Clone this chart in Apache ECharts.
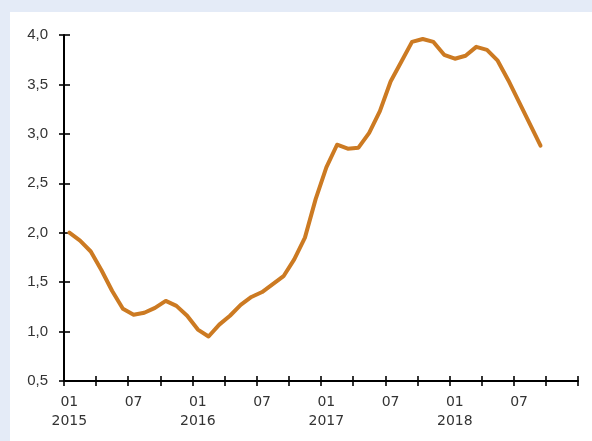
<!DOCTYPE html>
<html>
<head>
<meta charset="utf-8">
<script src="https://cdn.jsdelivr.net/npm/echarts@6/dist/echarts.min.js"></script>
<style>
  html, body { margin: 0; padding: 0; width: 592px; height: 441px; background: #E4EBF7; overflow: hidden; }
  #panel { position: absolute; left: 10px; top: 12px; width: 582px; height: 429px; background: #ffffff; }
  #chart { width: 582px; height: 429px; }
</style>
</head>
<body>
<div id="panel"><div id="chart"></div></div>
<script>
const years = ['2015', '2016', '2017', '2018'];
const monthCodes = ['01','02','03','04','05','06','07','08','09','10','11','12'];
const yTicks = { min: 0.5, max: 4.0, interval: 0.5 };

// Monthly values, Jan 2015 .. Sep 2018
const values = [
  2.00, 1.92, 1.81, 1.62, 1.41, 1.23, 1.17, 1.19, 1.24, 1.31, 1.26, 1.16,
  1.02, 0.95, 1.07, 1.16, 1.27, 1.35, 1.40, 1.48, 1.56, 1.73, 1.95, 2.34,
  2.66, 2.89, 2.85, 2.86, 3.01, 3.23, 3.53, 3.73, 3.93, 3.96, 3.93, 3.80,
  3.76, 3.79, 3.88, 3.85, 3.74, 3.54, 3.32, 3.10, 2.88
];

const categories = [];
years.forEach(y => monthCodes.forEach(m => categories.push(y + '-' + m)));

const chart = echarts.init(document.getElementById('chart'));
const axisLineStyle = { color: '#000', width: 2 };
const tickStyle = { color: '#000', width: 1.6 };

function xLabel(v) {
  const parts = v.split('-');
  if (parts[1] === '01') return parts[1] + '\n' + parts[0];
  return parts[1];
}

chart.setOption({
  animation: false,
  grid: { left: 54, top: 23, right: 14, bottom: 60, containLabel: false },
  xAxis: [
    {
      type: 'category', data: categories, boundaryGap: true, position: 'bottom',
      axisLine: { show: true, lineStyle: axisLineStyle },
      axisTick: { show: true, interval: 2, length: 5, inside: false, lineStyle: tickStyle },
      axisLabel: {
        interval: 5, formatter: xLabel, margin: 12,
        fontFamily: 'DejaVu Sans', fontSize: 14, color: '#333', lineHeight: 19
      },
      splitLine: { show: false }
    },
    {
      type: 'category', data: categories, boundaryGap: true, position: 'bottom',
      axisLine: { show: false },
      axisTick: { show: true, interval: 2, length: 5, inside: true, lineStyle: tickStyle },
      axisLabel: { show: false },
      splitLine: { show: false }
    }
  ],
  yAxis: [
    {
      type: 'value', min: yTicks.min, max: yTicks.max, interval: yTicks.interval,
      axisLine: { show: true, lineStyle: axisLineStyle },
      axisTick: { show: true, length: 5, inside: false, lineStyle: tickStyle },
      axisLabel: {
        margin: 16, fontFamily: 'Liberation Sans', fontSize: 15, color: '#333',
        formatter: v => v.toFixed(1).replace('.', ',')
      },
      splitLine: { show: false }
    },
    {
      type: 'value', min: yTicks.min, max: yTicks.max, interval: yTicks.interval, position: 'left',
      axisLine: { show: false },
      axisTick: { show: true, length: 6, inside: true, lineStyle: tickStyle },
      axisLabel: { show: false },
      splitLine: { show: false }
    }
  ],
  series: [{
    type: 'line', data: values, xAxisIndex: 0, yAxisIndex: 0,
    showSymbol: false, symbol: 'none', smooth: false,
    lineStyle: { color: '#CC7A22', width: 4, cap: 'round', join: 'round' }
  }]
});
</script>
</body>
</html>
